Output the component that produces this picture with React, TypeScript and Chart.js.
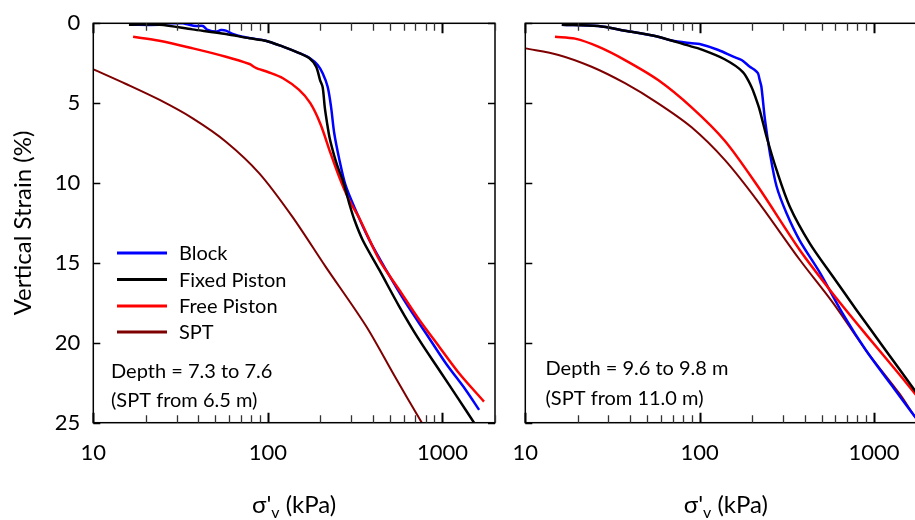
import React, { useEffect, useRef } from "react";
import { Chart, registerables } from "chart.js";
Chart.register(...registerables);

const FONT = "Lato, 'Noto Sans', 'DejaVu Sans', sans-serif";

// ---- labels / ticks ----
const seriesNames = ["Block", "Fixed Piston", "Free Piston", "SPT"];
const seriesColors = ["#0000FF", "#000000", "#FF0000", "#7F0000"];
const xLabelTicks = [10, 100, 1000];
const yTickValues = [0, 5, 10, 15, 20, 25];
const leftNotes = ["Depth = 7.3 to 7.6", "(SPT from 6.5 m)"];
const rightNotes = ["Depth = 9.6 to 9.8 m", "(SPT from 11.0 m)"];

// ---- left panel (Depth 7.3 to 7.6) ----
const leftBlockStress = [16.2, 23.9, 25, 32.6, 34, 38.8, 42.4, 45.3, 50.5, 53.9, 57.5, 62.9, 71.6, 97, 122, 150, 175, 193, 206, 220, 230, 240, 257, 278, 312, 381, 475, 618, 804, 1045, 1360, 1622];
const leftBlockStrain = [0.09, 0.09, 0, 0, 0.04, 0.17, 0.17, 0.42, 0.52, 0.42, 0.46, 0.67, 0.84, 1.09, 1.46, 1.85, 2.2, 2.61, 3.13, 3.97, 5.22, 6.88, 8.55, 10.1, 11.48, 13.56, 15.44, 17.52, 19.4, 21.28, 22.95, 24.2];
const leftFixedStress = [16, 24, 37, 57.5, 78.5, 97, 122, 150, 173, 189, 199, 206, 212, 218, 226, 240, 251, 268, 280, 293, 313, 349, 435, 566, 736, 958, 1245, 1517];
const leftFixedStrain = [0.09, 0.09, 0.38, 0.67, 0.94, 1.09, 1.46, 1.85, 2.19, 2.71, 3.55, 4.0, 5.3, 6.2, 7.2, 8.3, 8.97, 9.8, 10.5, 11.3, 12.3, 13.56, 15.44, 17.73, 19.82, 21.7, 23.57, 25];
const leftFreeStress = [16.9, 23.9, 37.2, 57.5, 78.5, 84, 88, 100, 122, 151, 175, 200, 228, 260, 293, 334, 435, 566, 736, 958, 1245, 1730];
const leftFreeStrain = [0.84, 1.09, 1.57, 2.09, 2.55, 2.75, 2.85, 3.05, 3.44, 4.17, 5.0, 6.3, 8.1, 9.8, 11.1, 12.2, 14.81, 16.69, 18.56, 20.24, 21.9, 23.68];
const leftSptStress = [10, 15.4, 24, 37.1, 57.5, 89.3, 138, 214, 365, 530, 762, 957];
const leftSptStrain = [2.88, 3.8, 4.8, 5.95, 7.41, 9.39, 12.1, 15.23, 18.95, 22.05, 25.0, 26.8];

// ---- right panel (Depth 9.6 to 9.8 m) ----
const rightBlockStress = [16.2, 26.2, 37.3, 57.8, 69, 90, 100, 128, 156, 174, 194, 207, 216, 221, 226, 237, 253, 276, 315, 375, 489, 664, 903, 1231, 1710, 2000];
const rightBlockStrain = [0.09, 0.17, 0.46, 0.84, 1.08, 1.25, 1.3, 1.67, 2.09, 2.3, 2.72, 2.92, 3.13, 3.55, 3.97, 6.05, 8.13, 10.2, 11.89, 13.6, 15.6, 18.2, 20.5, 22.5, 24.6, 25.5];
const rightFixedStress = [16.2, 26.2, 37.3, 57.8, 89.9, 100, 139, 177, 198, 210, 221, 242, 276, 329, 428, 582, 793, 1127, 1706, 2000];
const rightFixedStrain = [0.09, 0.17, 0.46, 0.84, 1.46, 1.6, 2.25, 3.05, 3.97, 4.7, 5.43, 7.1, 9.18, 11.48, 13.77, 15.86, 17.94, 20.24, 22.95, 24.0];
const rightFreeStress = [14.8, 19.3, 26.2, 37.3, 57.8, 89.9, 139.3, 216, 375, 582, 903, 1403, 1710, 2000];
const rightFreeStrain = [0.84, 0.96, 1.46, 2.3, 3.55, 5.26, 7.35, 10.22, 14.19, 16.94, 19.5, 22.0, 23.15, 24.0];
const rightSptStress = [10, 15.5, 24, 37.3, 57.8, 89.9, 139.3, 216, 375, 582, 903, 1403, 1710, 2000];
const rightSptStrain = [1.57, 1.98, 2.72, 3.75, 5.01, 6.51, 8.55, 11.16, 14.8, 17.5, 20.5, 23.2, 24.6, 25.5];

const zip = (xs: number[], ys: number[]) => xs.map((x, i) => ({ x, y: ys[i] }));

const leftSeries = [
  zip(leftBlockStress, leftBlockStrain),
  zip(leftFixedStress, leftFixedStrain),
  zip(leftFreeStress, leftFreeStrain),
  zip(leftSptStress, leftSptStrain),
];
const rightSeries = [
  zip(rightBlockStress, rightBlockStrain),
  zip(rightFixedStress, rightFixedStrain),
  zip(rightFreeStress, rightFreeStrain),
  zip(rightSptStress, rightSptStrain),
];

const drawOrder = [2, 0, 1, 3];
const lineWidths = [2.5, 2.5, 2.5, 2];

type PanelProps = {
  series: { x: number; y: number }[][];
  width: number;
  left: number;
  yAxisWidth: number;
  padRight: number;
  showYLabels: boolean;
  showLegend: boolean;
  notes: string[];
  noteX: number;
  noteY: number[];
};

function Panel(props: PanelProps) {
  const ref = useRef<HTMLCanvasElement | null>(null);
  useEffect(() => {
    const canvas = ref.current;
    if (!canvas) return;
    const frame = {
      id: "frame",
      afterDatasetsDraw(chart: any) {
        const ctx = chart.ctx;
        const a = chart.chartArea;
        const xs = chart.scales.x;
        const ys = chart.scales.y;
        ctx.save();
        ctx.strokeStyle = "#000";
        ctx.lineWidth = 1.5;
        ctx.strokeRect(a.left, a.top, a.right - a.left, a.bottom - a.top);
        // x ticks (inward, top and bottom)
        for (const d of xLabelTicks) {
          for (let m = 1; m <= 9; m++) {
            const v = m * d;
            if (v > 2000) continue;
            const px = Math.round(xs.getPixelForValue(v)) + 0.5;
            const major = m === 1;
            const len = major ? 10 : 7.5;
            ctx.lineWidth = major ? 2 : 1.3;
            ctx.strokeStyle = major ? "#000" : "#333";
            ctx.beginPath();
            ctx.moveTo(px, a.bottom);
            ctx.lineTo(px, a.bottom - len);
            ctx.moveTo(px, a.top);
            ctx.lineTo(px, a.top + len);
            ctx.stroke();
          }
        }
        ctx.strokeStyle = "#000";
        ctx.lineWidth = 1.5;
        for (const v of yTickValues) {
          const py = Math.round(ys.getPixelForValue(v)) + 0.5;
          ctx.beginPath();
          ctx.moveTo(a.left, py);
          ctx.lineTo(a.left + 7, py);
          ctx.moveTo(a.right, py);
          ctx.lineTo(a.right - 7, py);
          ctx.stroke();
        }
        // legend
        if (props.showLegend) {
          ctx.font = `20px ${FONT}`;
          ctx.textBaseline = "middle";
          ctx.textAlign = "left";
          const rows = [253, 279.5, 306, 332];
          chart.data.datasets.forEach((ds: any, i: number) => {
            ctx.strokeStyle = ds.borderColor;
            ctx.lineWidth = 3;
            ctx.beginPath();
            ctx.moveTo(117, rows[i]);
            ctx.lineTo(167, rows[i]);
            ctx.stroke();
            ctx.fillStyle = "#000";
            ctx.fillText(ds.label, 179, rows[i] + 1);
          });
        }
        // notes
        ctx.font = `20px ${FONT}`;
        ctx.textBaseline = "alphabetic";
        ctx.textAlign = "left";
        ctx.fillStyle = "#000";
        props.notes.forEach((t, i) => ctx.fillText(t, props.noteX, props.noteY[i]));
        // x title with subscript
        const cx = (a.left + a.right) / 2;
        const base = 513;
        const big = `24px ${FONT}`;
        const small = `16px ${FONT}`;
        ctx.font = big;
        const w1 = ctx.measureText("σ'").width;
        const w3 = ctx.measureText(" (kPa)").width;
        ctx.font = small;
        const w2 = ctx.measureText("v").width;
        let x0 = cx - (w1 + w2 + w3) / 2;
        ctx.font = big;
        ctx.fillText("σ'", x0, base);
        ctx.font = small;
        ctx.fillText("v", x0 + w1, base + 5);
        ctx.font = big;
        ctx.fillText(" (kPa)", x0 + w1 + w2, base);
        ctx.restore();
      },
    };
    const chart = new Chart(canvas, {
      type: "line",
      data: {
        datasets: props.series.map((pts, i) => ({
          label: seriesNames[i],
          data: pts,
          borderColor: seriesColors[i],
          backgroundColor: seriesColors[i],
          borderWidth: lineWidths[i],
          pointRadius: 0,
          fill: false,
          tension: 0.3,
          clip: 0,
          order: drawOrder[i],
        })),
      },
      options: {
        animation: false,
        responsive: false,
        maintainAspectRatio: false,
        layout: { padding: { top: 23.3, right: props.padRight, left: 0, bottom: 0 } },
        plugins: { legend: { display: false }, tooltip: { enabled: false } },
        scales: {
          x: {
            type: "logarithmic",
            min: 10,
            max: 2000,
            grid: { display: false, drawTicks: false },
            border: { display: false },
            ticks: {
              autoSkip: false,
              maxRotation: 0,
              padding: 17,
              color: "#000",
              font: { family: FONT, size: 22 },
              callback: (v: any) => {
                const n = Number(v);
                return xLabelTicks.some((t) => Math.abs(t - n) < 1e-6) ? String(Math.round(n)) : "";
              },
            },
            afterFit: (s: any) => {
              s.height = 97.3;
              s.paddingLeft = 0;
              s.paddingRight = 0;
            },
          },
          y: {
            type: "linear",
            reverse: true,
            min: 0,
            max: 25,
            grid: { display: false, drawTicks: false },
            border: { display: false },
            ticks: {
              display: props.showYLabels,
              stepSize: 5,
              padding: 13,
              color: "#000",
              font: { family: FONT, size: 22 },
            },
            title: {
              display: props.showYLabels,
              text: "Vertical Strain (%)",
              color: "#000",
              font: { family: FONT, size: 24 },
              padding: { top: 9, bottom: 0 },
            },
            afterFit: (s: any) => {
              s.width = props.yAxisWidth;
              s.paddingTop = 0;
              s.paddingBottom = 0;
            },
          },
        },
      },
      plugins: [frame],
    } as any);
    return () => chart.destroy();
  }, []);
  return (
    <canvas
      ref={ref}
      width={props.width}
      height={520}
      style={{ position: "absolute", left: props.left, top: 0, width: props.width, height: 520, display: "block" }}
    />
  );
}

export default function App() {
  return (
    <div
      style={{
        position: "fixed",
        left: 0,
        top: 0,
        width: 915,
        height: 520,
        overflow: "hidden",
        background: "#fff",
      }}
    >
      <Panel
        series={leftSeries}
        width={505}
        left={0}
        yAxisWidth={93.3}
        padRight={10}
        showYLabels={true}
        showLegend={true}
        notes={leftNotes}
        noteX={111}
        noteY={[378, 407]}
      />
      <Panel
        series={rightSeries}
        width={440}
        left={505}
        yAxisWidth={20.3}
        padRight={18.5}
        showYLabels={false}
        showLegend={false}
        notes={rightNotes}
        noteX={545.5 - 505}
        noteY={[375, 405]}
      />
    </div>
  );
}
